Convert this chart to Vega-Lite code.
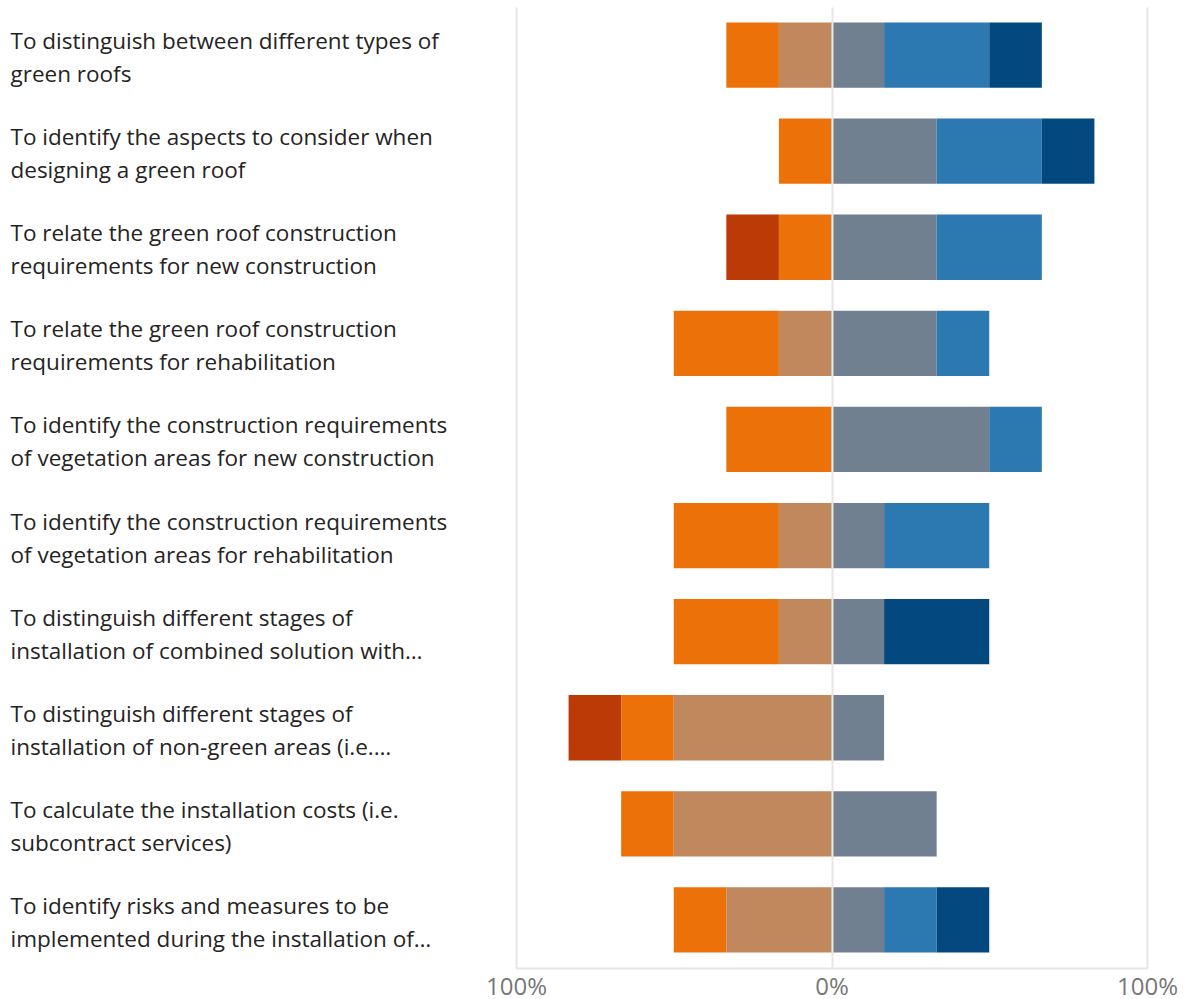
{
  "$schema": "https://vega.github.io/schema/vega-lite/v6.json",
  "width": 631,
  "height": 961,
  "autosize": {"type": "none"},
  "padding": {"left": 516, "top": 7, "right": 37, "bottom": 31},
  "background": "white",
  "config": {"view": {"stroke": null}, "font": "Open Sans"},
  "data": {
    "values": [
      {"task": "To distinguish between different types of|green roofs", "response": "Disagree", "share": -0.16667},
      {"task": "To distinguish between different types of|green roofs", "response": "Somewhat disagree", "share": -0.16667},
      {"task": "To distinguish between different types of|green roofs", "response": "Somewhat agree", "share": 0.16667},
      {"task": "To distinguish between different types of|green roofs", "response": "Agree", "share": 0.33333},
      {"task": "To distinguish between different types of|green roofs", "response": "Strongly agree", "share": 0.16667},

      {"task": "To identify the aspects to consider when|designing a green roof", "response": "Disagree", "share": -0.16667},
      {"task": "To identify the aspects to consider when|designing a green roof", "response": "Somewhat agree", "share": 0.33333},
      {"task": "To identify the aspects to consider when|designing a green roof", "response": "Agree", "share": 0.33333},
      {"task": "To identify the aspects to consider when|designing a green roof", "response": "Strongly agree", "share": 0.16667},

      {"task": "To relate the green roof construction|requirements for new construction", "response": "Strongly disagree", "share": -0.16667},
      {"task": "To relate the green roof construction|requirements for new construction", "response": "Disagree", "share": -0.16667},
      {"task": "To relate the green roof construction|requirements for new construction", "response": "Somewhat agree", "share": 0.33333},
      {"task": "To relate the green roof construction|requirements for new construction", "response": "Agree", "share": 0.33333},

      {"task": "To relate the green roof construction|requirements for rehabilitation", "response": "Disagree", "share": -0.33333},
      {"task": "To relate the green roof construction|requirements for rehabilitation", "response": "Somewhat disagree", "share": -0.16667},
      {"task": "To relate the green roof construction|requirements for rehabilitation", "response": "Somewhat agree", "share": 0.33333},
      {"task": "To relate the green roof construction|requirements for rehabilitation", "response": "Agree", "share": 0.16667},

      {"task": "To identify the construction requirements|of vegetation areas for new construction", "response": "Disagree", "share": -0.33333},
      {"task": "To identify the construction requirements|of vegetation areas for new construction", "response": "Somewhat agree", "share": 0.5},
      {"task": "To identify the construction requirements|of vegetation areas for new construction", "response": "Agree", "share": 0.16667},

      {"task": "To identify the construction requirements|of vegetation areas for rehabilitation", "response": "Disagree", "share": -0.33333},
      {"task": "To identify the construction requirements|of vegetation areas for rehabilitation", "response": "Somewhat disagree", "share": -0.16667},
      {"task": "To identify the construction requirements|of vegetation areas for rehabilitation", "response": "Somewhat agree", "share": 0.16667},
      {"task": "To identify the construction requirements|of vegetation areas for rehabilitation", "response": "Agree", "share": 0.33333},

      {"task": "To distinguish different stages of|installation of combined solution with…", "response": "Disagree", "share": -0.33333},
      {"task": "To distinguish different stages of|installation of combined solution with…", "response": "Somewhat disagree", "share": -0.16667},
      {"task": "To distinguish different stages of|installation of combined solution with…", "response": "Somewhat agree", "share": 0.16667},
      {"task": "To distinguish different stages of|installation of combined solution with…", "response": "Strongly agree", "share": 0.33333},

      {"task": "To distinguish different stages of|installation of non-green areas (i.e.…", "response": "Strongly disagree", "share": -0.16667},
      {"task": "To distinguish different stages of|installation of non-green areas (i.e.…", "response": "Disagree", "share": -0.16667},
      {"task": "To distinguish different stages of|installation of non-green areas (i.e.…", "response": "Somewhat disagree", "share": -0.5},
      {"task": "To distinguish different stages of|installation of non-green areas (i.e.…", "response": "Somewhat agree", "share": 0.16667},

      {"task": "To calculate the installation costs (i.e.|subcontract services)", "response": "Disagree", "share": -0.16667},
      {"task": "To calculate the installation costs (i.e.|subcontract services)", "response": "Somewhat disagree", "share": -0.5},
      {"task": "To calculate the installation costs (i.e.|subcontract services)", "response": "Somewhat agree", "share": 0.33333},

      {"task": "To identify risks and measures to be|implemented during the installation of…", "response": "Disagree", "share": -0.16667},
      {"task": "To identify risks and measures to be|implemented during the installation of…", "response": "Somewhat disagree", "share": -0.33333},
      {"task": "To identify risks and measures to be|implemented during the installation of…", "response": "Somewhat agree", "share": 0.16667},
      {"task": "To identify risks and measures to be|implemented during the installation of…", "response": "Agree", "share": 0.16667},
      {"task": "To identify risks and measures to be|implemented during the installation of…", "response": "Strongly agree", "share": 0.16667}
    ]
  },
  "transform": [
    {"calculate": "indexof(['Somewhat disagree','Somewhat agree','Disagree','Agree','Strongly disagree','Strongly agree'], datum.response)", "as": "stackOrder"}
  ],
  "mark": {"type": "bar"},
  "encoding": {
    "y": {
      "field": "task",
      "type": "nominal",
      "sort": null,
      "scale": {"paddingInner": 0.32, "paddingOuter": 0.16},
      "axis": {
        "title": null,
        "domain": false,
        "ticks": false,
        "labelAlign": "left",
        "labelPadding": 506,
        "labelFontSize": 22.5,
        "labelColor": "#252423",
        "labelLineHeight": 33,
        "labelOffset": -13,
        "labelLimit": 0,
        "labelExpr": "split(datum.label, '|')"
      }
    },
    "x": {
      "field": "share",
      "type": "quantitative",
      "stack": "zero",
      "scale": {"domain": [-1, 1], "nice": false},
      "axis": {
        "title": null,
        "values": [-1, 0, 1],
        "labelExpr": "format(abs(datum.value), '.0%')",
        "labelFontSize": 24,
        "labelColor": "#777777",
        "labelBaseline": "alphabetic",
        "labelPadding": 26,
        "ticks": false,
        "domainColor": "#e6e6e6",
        "domainWidth": 2,
        "gridColor": "#e6e6e6",
        "gridWidth": 2,
        "zindex": 1,
        "labelFlush": false
      }
    },
    "color": {
      "field": "response",
      "type": "nominal",
      "legend": null,
      "scale": {
        "domain": ["Strongly disagree", "Disagree", "Somewhat disagree", "Somewhat agree", "Agree", "Strongly agree"],
        "range": ["#BB3A05", "#EB7108", "#C1875D", "#708090", "#2B79B0", "#03497F"]
      }
    },
    "order": {"field": "stackOrder", "type": "quantitative"}
  }
}
